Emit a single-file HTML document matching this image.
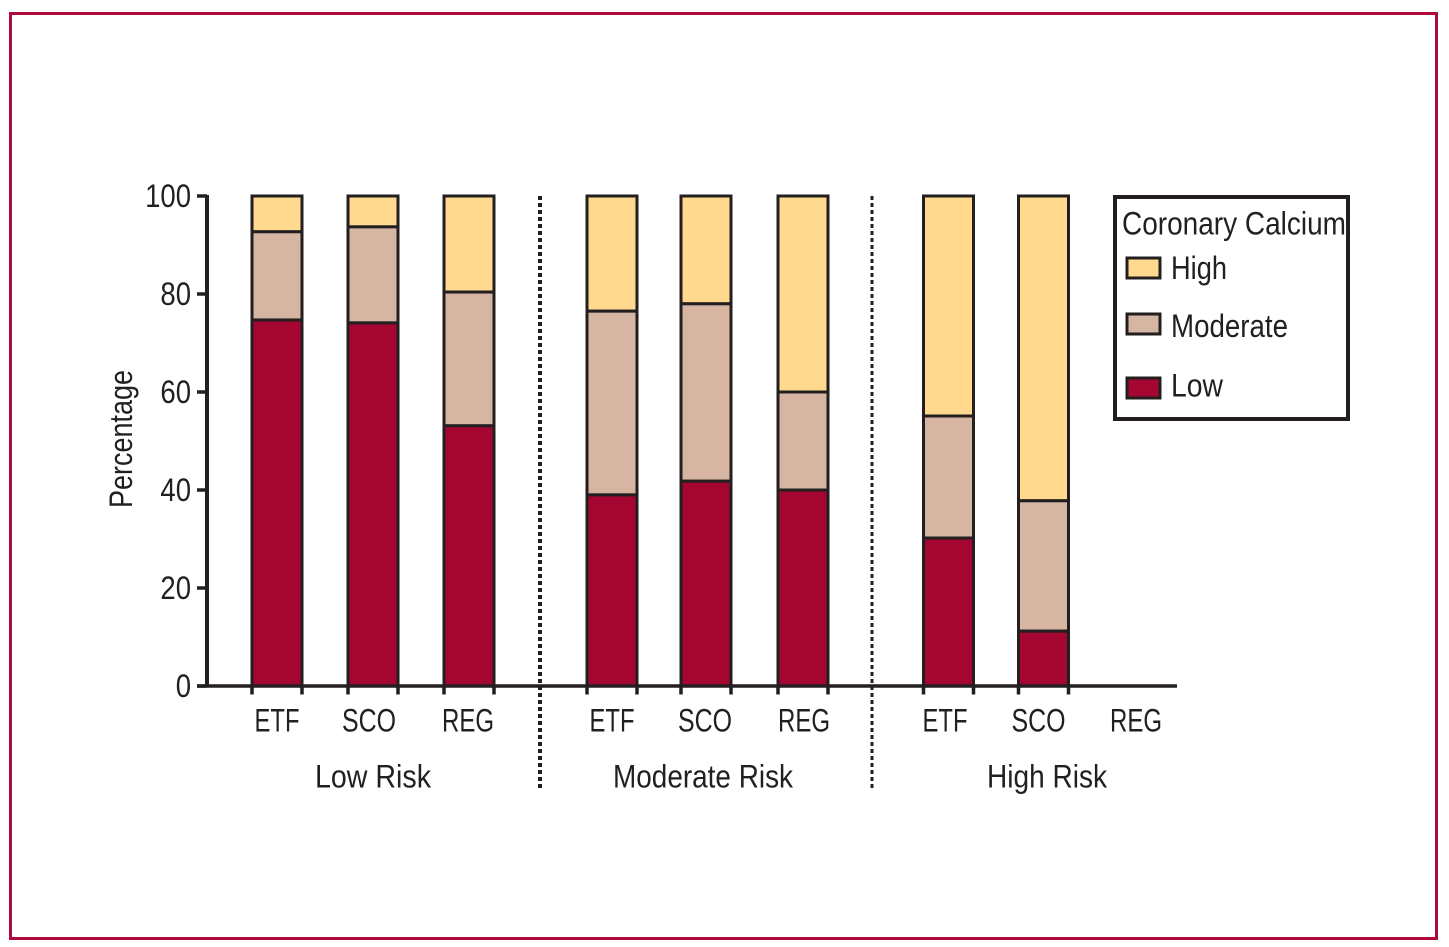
<!DOCTYPE html>
<html lang="en">
<head>
<meta charset="utf-8">
<title>Coronary Calcium by Risk Group</title>
<style>
html,body{margin:0;padding:0;background:#fff;width:1449px;height:947px;overflow:hidden}
svg{display:block}
text{font-family:"Liberation Sans",Arial,sans-serif;font-size:32px;fill:#231f20}
</style>
</head>
<body>
<svg id="chart" xmlns="http://www.w3.org/2000/svg" width="1449" height="947" viewBox="0 0 1449 947">
  <rect x="10.5" y="13.5" width="1426" height="925" fill="#fff" stroke="#b00a3d" stroke-width="3"/>
  <g id="bars"></g>
  <g id="axes"></g>
  <line x1="540" y1="196" x2="540" y2="791" stroke="#231f20" stroke-width="4" stroke-dasharray="4 3"/>
  <line x1="872" y1="196" x2="872" y2="791" stroke="#231f20" stroke-width="3" stroke-dasharray="4 3"/>
  <text transform="translate(132,508) rotate(-90)" textLength="138" lengthAdjust="spacingAndGlyphs">Percentage</text>
  <g>
    <rect x="1115" y="197" width="233" height="222" fill="#fff" stroke="#231f20" stroke-width="4"/>
    <text x="1122" y="234.5" textLength="224" lengthAdjust="spacingAndGlyphs">Coronary Calcium</text>
    <rect x="1127" y="258" width="33" height="20" fill="#fed98e" stroke="#231f20" stroke-width="3"/>
    <text x="1171" y="279" textLength="56" lengthAdjust="spacingAndGlyphs">High</text>
    <rect x="1127" y="314" width="33" height="20" fill="#d6b6a2" stroke="#231f20" stroke-width="3"/>
    <text x="1171" y="337" textLength="117" lengthAdjust="spacingAndGlyphs">Moderate</text>
    <rect x="1127" y="378" width="33" height="20" fill="#a50531" stroke="#231f20" stroke-width="3"/>
    <text x="1171" y="396.5" textLength="52" lengthAdjust="spacingAndGlyphs">Low</text>
  </g>
</svg>
<script>
const groups = ["Low Risk", "Moderate Risk", "High Risk"];
const categories = ["ETF", "SCO", "REG"];
const lowValues = [74.7, 74.1, 53.1, 39.0, 41.8, 40.0, 30.2, 11.2, 0];
const moderateValues = [18.0, 19.6, 27.3, 37.5, 36.2, 20.0, 24.9, 26.6, 0];
const highValues = [7.3, 6.3, 19.6, 23.5, 22.0, 40.0, 44.9, 62.2, 0];
const yTicks = [0, 20, 40, 60, 80, 100];

const NS = "http://www.w3.org/2000/svg";
const barsLayer = document.getElementById("bars");
const axesLayer = document.getElementById("axes");
const INK = "#231f20";
const BAR_W = 50;
const GROUP_X = [252, 587, 923];
const GROUP_STEP = [96, 95.5, 95];
const SLOT_NUDGE = [[0, 0, 0], [0, -1.5, 0], [0.5, 0.5, 0]];
const LABEL_W = { ETF: 45, SCO: 54, REG: 52 };
const GROUP_W = [116, 180, 120];
const GROUP_CX = [373, 703, 1047];
const LABEL_SHIFT = [[0, -4, -1], [0, -1, 1], [-3.5, -5, -2]];

function yScale(v) { return 686 - v * 4.9; }
function xScale(g, i) { return GROUP_X[g] + i * GROUP_STEP[g] + SLOT_NUDGE[g][i]; }

function line(x1, y1, x2, y2, w) {
  const l = document.createElementNS(NS, "line");
  l.setAttribute("x1", x1);
  l.setAttribute("y1", y1);
  l.setAttribute("x2", x2);
  l.setAttribute("y2", y2);
  l.setAttribute("stroke", INK);
  l.setAttribute("stroke-width", w);
  axesLayer.appendChild(l);
  return l;
}

function label(str, x, y, width, anchor) {
  const t = document.createElementNS(NS, "text");
  t.textContent = str;
  t.setAttribute("x", x);
  t.setAttribute("y", y);
  t.setAttribute("text-anchor", anchor);
  t.setAttribute("textLength", width);
  t.setAttribute("lengthAdjust", "spacingAndGlyphs");
  axesLayer.appendChild(t);
  return t;
}

function segment(x, base, value, fill) {
  const r = document.createElementNS(NS, "rect");
  r.setAttribute("x", x);
  r.setAttribute("y", yScale(base + value));
  r.setAttribute("width", BAR_W);
  r.setAttribute("height", yScale(base) - yScale(base + value));
  r.setAttribute("fill", fill);
  r.setAttribute("stroke", INK);
  r.setAttribute("stroke-width", 3);
  barsLayer.appendChild(r);
  return r;
}

const yAxis = line(207, 195, 207, 687.5, 4);


const xAxis = line(197, 686, 1177, 686, 3.5);



yTicks.forEach(function (v) {
  const tick = line(197, yScale(v), 207, yScale(v), 3.5);
  
  
  const txt = label(String(v), 191, yScale(v) + 11, String(v).length * 15.3, "end");
  
  
});

groups.forEach(function (name, g) {
  categories.forEach(function (cat, i) {
    const idx = g * categories.length + i;
    const x = xScale(g, i);
    const total = lowValues[idx] + moderateValues[idx] + highValues[idx];
    if (total > 0) {
      const sh = segment(x, lowValues[idx] + moderateValues[idx], highValues[idx], "#fed98e");
      
      
      const sm = segment(x, lowValues[idx], moderateValues[idx], "#d6b6a2");
      
      
      const sl = segment(x, 0, lowValues[idx], "#a50531");
      
      
      const tl = line(x, 686, x, 694.5, 3.5);
      
      
      const tr = line(x + BAR_W, 686, x + BAR_W, 694.5, 3.5);
      
      
    }
    const catText = label(cat, x + BAR_W / 2 + LABEL_SHIFT[g][i], 731.5, LABEL_W[cat], "middle");
    
    
  });
  const groupText = label(name, GROUP_CX[g], 787.5, GROUP_W[g], "middle");
  
  
});
</script>
</body>
</html>
